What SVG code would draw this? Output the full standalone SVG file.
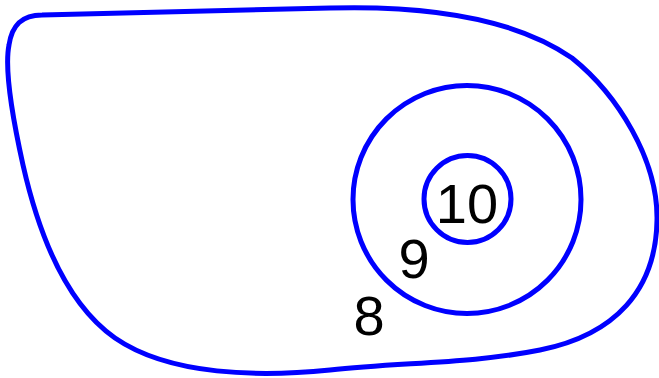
<svg xmlns="http://www.w3.org/2000/svg" width="659" height="378" viewBox="0 0 659 378">
<style>
.c{fill:none;stroke:#0000ff;stroke-width:5;stroke-linejoin:round}
.t{font-family:"Liberation Sans",Arial,sans-serif;font-size:56px;fill:#000;text-anchor:middle}
</style>
<rect width="659" height="378" fill="#fff"/>
<g id="region8">
<path class="c" d="M 42 15 L 330 8 C 440 5, 520 22, 572 58 C 618 95, 658 160, 657 220 C 656 290, 615 335, 540 350 C 470 364, 400 362, 330 370 C 260 377, 170 376, 115 338 C 68 305, 40 240, 23 165 C 13 120, 4 70, 9 45 C 12 25, 22 15, 42 15 Z"/>
<text class="t" x="369" y="335">8</text>
</g>
<g id="region9">
<circle class="c" cx="467" cy="199.5" r="114"/>
<text class="t" x="414" y="278">9</text>
</g>
<g id="region10">
<circle class="c" cx="467.5" cy="199" r="43.5"/>
<text class="t" x="467" y="223">10</text>
</g>
</svg>
